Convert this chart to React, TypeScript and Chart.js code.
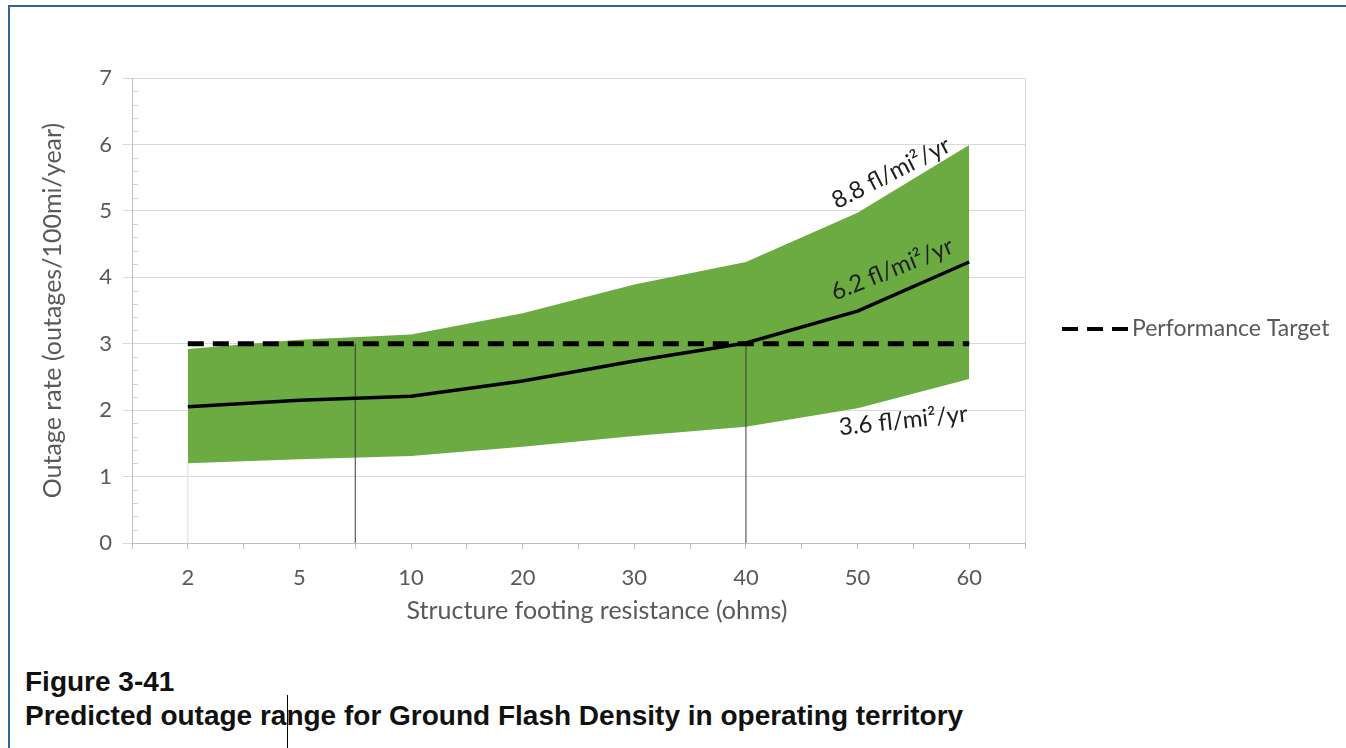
import React, { useEffect, useRef } from "react";
import { Chart, registerables } from "chart.js";

Chart.register(...registerables);

// ---------- data ----------
const categories = ["2", "5", "10", "20", "30", "40", "50", "60"];
const upper88 = [2.92, 3.06, 3.14, 3.46, 3.89, 4.23, 4.97, 5.99];
const mid62 = [2.05, 2.15, 2.21, 2.44, 2.74, 3.01, 3.49, 4.23];
const lower36 = [1.2, 1.26, 1.31, 1.45, 1.61, 1.75, 2.03, 2.47];
const targetValues = [3, 3, 3, 3, 3, 3, 3, 3];
const targetLevel = 3;
const dropLineIndex = [1.5, 5];
const yMin = 0;
const yMax = 7;
const seriesLabels = ["8.8 fl/mi²/yr", "6.2 fl/mi²/yr", "3.6 fl/mi²/yr"];
const legendLabel = "Performance Target";
const xTitle = "Structure footing resistance (ohms)";
const yTitle = "Outage rate (outages/100mi/year)";
const figureNumber = "Figure 3-41";
const figureCaption = "Predicted outage range for Ground Flash Density in operating territory";

// ---------- styles ----------
const FONT = "Lato, 'Open Sans', sans-serif";
const AXIS_COLOR = "#595959";
const GREEN = "#6cab41";
const labelStyle = [
  { x: 6.3, y: 5.57, angle: -27 },
  { x: 6.31, y: 4.12, angle: -22 },
  { x: 6.41, y: 1.84, angle: -6 },
];

const toPts = (arr: number[]) => arr.map((y, i) => ({ x: i, y }));

const overlayPlugin = {
  id: "overlay",
  afterDraw(chart: any) {
    const ctx = chart.ctx;
    const xs = chart.scales.x;
    const ys = chart.scales.y;
    ctx.save();
    // minor ticks on y axis (inside)
    ctx.strokeStyle = "#d0d0d0";
    ctx.lineWidth = 1;
    for (let v = yMin; v < yMax; v += 1) {
      for (let k = 1; k < 5; k++) {
        const py = Math.round(ys.getPixelForValue(v + k * 0.2)) + 0.5;
        ctx.beginPath();
        ctx.moveTo(xs.left, py);
        ctx.lineTo(xs.left + 6, py);
        ctx.stroke();
      }
    }
    // series labels
    ctx.fillStyle = "#1e1e1e";
    ctx.font = `24px ${FONT}`;
    ctx.textAlign = "center";
    ctx.textBaseline = "middle";
    seriesLabels.forEach((t, i) => {
      const s = labelStyle[i];
      ctx.save();
      ctx.translate(xs.getPixelForValue(s.x), ys.getPixelForValue(s.y));
      ctx.rotate((s.angle * Math.PI) / 180);
      ctx.fillText(t, 0, 0);
      ctx.restore();
    });
    // x title
    ctx.fillStyle = AXIS_COLOR;
    ctx.font = `25px ${FONT}`;
    ctx.fillText(xTitle, 597, 611);
    // legend
    const ly = 329;
    ctx.strokeStyle = "#000";
    ctx.lineWidth = 4;
    ctx.setLineDash([16, 9]);
    ctx.beginPath();
    ctx.moveTo(1062, ly);
    ctx.lineTo(1128, ly);
    ctx.stroke();
    ctx.setLineDash([]);
    ctx.fillStyle = AXIS_COLOR;
    ctx.font = `23px ${FONT}`;
    ctx.textAlign = "left";
    ctx.fillText(legendLabel, 1132, ly);
    ctx.restore();
  },
};

export default function App() {
  const ref = useRef<HTMLCanvasElement | null>(null);

  useEffect(() => {
    if (!ref.current) return;
    Chart.defaults.font.family = FONT;
    const dropSets = dropLineIndex.map((x) => ({
      label: "drop",
      data: [
        { x, y: yMin },
        { x, y: targetLevel },
      ],
      borderColor: "#3a3a3a",
      borderWidth: 1,
      pointRadius: 0,
      fill: false,
      order: 2,
    }));
    const chart = new Chart(ref.current, {
      type: "line",
      data: {
        datasets: [
          {
            label: seriesLabels[1],
            data: toPts(mid62),
            borderColor: "#000",
            borderWidth: 3.5,
            pointRadius: 0,
            fill: false,
            order: 0,
          },
          {
            label: legendLabel,
            data: toPts(targetValues),
            borderColor: "#000",
            borderWidth: 5,
            borderDash: [16, 9],
            pointRadius: 0,
            fill: false,
            order: 1,
          },
          ...dropSets,
          {
            label: "base",
            data: [
              { x: 0, y: yMin },
              { x: 0, y: lower36[0] },
            ],
            borderColor: "#dcdcdc",
            borderWidth: 1,
            pointRadius: 0,
            fill: false,
            order: 3,
          },
          {
            label: seriesLabels[2],
            data: toPts(lower36),
            borderColor: "rgba(0,0,0,0)",
            borderWidth: 0,
            pointRadius: 0,
            fill: false,
            order: 5,
          },
          {
            label: seriesLabels[0],
            data: toPts(upper88),
            borderColor: "rgba(0,0,0,0)",
            backgroundColor: GREEN,
            borderWidth: 0,
            pointRadius: 0,
            fill: "-1",
            order: 6,
          },
        ],
      } as any,
      options: {
        animation: false,
        responsive: false,
        maintainAspectRatio: false,
        layout: { padding: { left: 0, right: 321, top: 78, bottom: 0 } },
        plugins: {
          legend: { display: false },
          tooltip: { enabled: false },
        },
        scales: {
          x: {
            type: "linear",
            min: -0.5,
            max: 7.5,
            afterFit: (s: any) => {
              s.height = 97;
            },
            ticks: {
              stepSize: 0.5,
              autoSkip: false,
              maxRotation: 0,
              padding: 16,
              color: AXIS_COLOR,
              font: { size: 22, family: FONT },
              callback: (v: any) => {
                const r = Math.round(v);
                return Math.abs(v - r) < 1e-6 && r >= 0 && r < categories.length ? categories[r] : "";
              },
            },
            grid: {
              drawOnChartArea: true,
              color: (c: any) => (c.tick && Math.abs(c.tick.value - 7.5) < 1e-6 ? "#d9d9d9" : "rgba(0,0,0,0)"),
              tickColor: "#bfbfbf",
              tickLength: 6,
            },
            border: { color: "#bfbfbf" },
          },
          y: {
            min: yMin,
            max: yMax,
            afterFit: (s: any) => {
              s.width = 132;
            },
            ticks: {
              stepSize: 1,
              padding: 11,
              color: AXIS_COLOR,
              font: { size: 22, family: FONT },
            },
            grid: { color: "#d9d9d9", tickColor: "#d9d9d9", tickLength: 9 },
            border: { color: "#bfbfbf" },
            title: {
              display: true,
              text: yTitle,
              color: AXIS_COLOR,
              font: { size: 25, family: FONT },
              padding: { top: 38, bottom: 0 },
            },
          },
        },
      } as any,
      plugins: [overlayPlugin],
    });
    return () => chart.destroy();
  }, []);

  return (
    <div style={{ position: "absolute", left: 0, top: 0, width: 1346, height: 748, background: "#fff", overflow: "hidden" }}>
      <div
        style={{
          position: "absolute",
          left: 8,
          top: 5,
          right: 0,
          bottom: 0,
          borderTop: "2px solid #2f6595",
          borderLeft: "2px solid #2f6595",
        }}
      />
      <canvas ref={ref} width={1346} height={640} style={{ position: "absolute", left: 0, top: 0 }} />
      <div
        style={{
          position: "absolute",
          left: 25,
          top: 665,
          fontFamily: "'Liberation Sans', Arial, sans-serif",
          fontWeight: "bold",
          fontSize: 28,
          lineHeight: "34px",
          color: "#111",
          whiteSpace: "nowrap",
        }}
      >
        <div>{figureNumber}</div>
        <div>{figureCaption}</div>
      </div>
      <div style={{ position: "absolute", left: 287, top: 695, width: 1, height: 53, background: "#000" }} />
    </div>
  );
}
